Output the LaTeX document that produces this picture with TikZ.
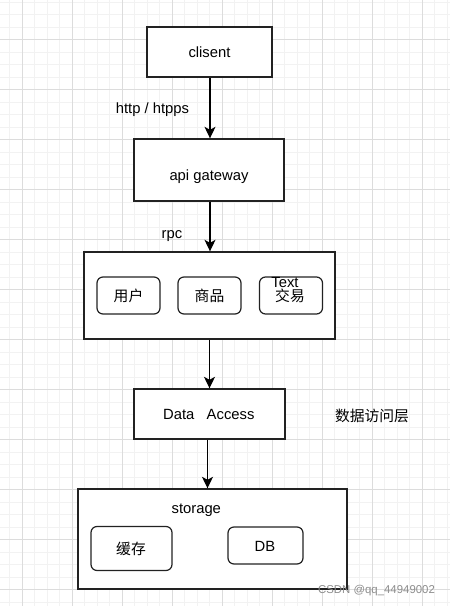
\documentclass[tikz,border=0pt]{standalone}
\usepackage{fontspec}
\setmainfont{Liberation Sans}
\newfontfamily\cjk{Noto Sans CJK SC}
\usetikzlibrary{arrows.meta}
\definecolor{minorgrid}{HTML}{F2F2F2}
\definecolor{majorgrid}{HTML}{DCDCDC}
\definecolor{boxline}{HTML}{222222}
\definecolor{wmark}{HTML}{8C8C8C}
\tikzset{
  box/.style={draw=boxline, line width=1.4pt, fill=white, inner sep=0pt},
  rbox/.style={draw=boxline, line width=1.2pt, rounded corners=6pt, fill=white, inner sep=0pt},
  lbl/.style={inner sep=0pt, font=\fontsize{14.8}{17}\selectfont},
  blbl/.style={lbl, anchor=base},
  arr/.style={draw=black, line width=1.3pt, -{Stealth[length=11.5pt,width=11pt,inset=3pt]}},
}
\begin{document}
\begin{tikzpicture}[x=1pt,y=-1pt]
\useasboundingbox (0,0) rectangle (450,606);
\fill[white] (0,0) rectangle (450,606);
% grid
\foreach \i in {-1,...,35} {\draw[minorgrid, line width=0.8pt] ({22+12.5*\i},0) -- ({22+12.5*\i},606);}
\foreach \i in {-3,...,45} {\draw[minorgrid, line width=0.8pt] (0,{39.5+12.5*\i}) -- (450,{39.5+12.5*\i});}
\foreach \i in {0,...,8} {\draw[majorgrid, line width=0.8pt] ({22+50*\i},0) -- ({22+50*\i},606);}
\foreach \i in {-1,...,11} {\draw[majorgrid, line width=0.8pt] (0,{39.5+50*\i}) -- (450,{39.5+50*\i});}

% boxes
\node[box, minimum width=125pt, minimum height=50pt] (client) at (209.5,52) {};
\node[box, minimum width=150pt, minimum height=62pt] (api) at (209,170) {};
\node[box, minimum width=251pt, minimum height=87pt] (svc) at (209.5,295.5) {};
\node[rbox, minimum width=63pt, minimum height=37pt] (user) at (128.5,295.5) {};
\node[rbox, minimum width=63pt, minimum height=37pt] (goods) at (209.5,295.5) {};
\node[rbox, minimum width=63pt, minimum height=37pt] (trade) at (291,295.5) {};
\node[box, minimum width=151pt, minimum height=50pt] (da) at (209.5,414) {};
\node[box, minimum width=269pt, minimum height=100pt] (storage) at (212.5,539) {};
\node[rbox, minimum width=81pt, minimum height=44pt] (cache) at (131.5,548.5) {};
\node[rbox, minimum width=75pt, minimum height=37pt] (db) at (265.5,545.5) {};

% texts
\node[blbl] (clienttxt) at (209.5,57.3) {clisent};
\node[blbl] (apitxt) at (209,180) {api gateway};
\node[lbl] (usertxt) at (128.5,295.5) {\cjk 用户};
\node[lbl] (goodstxt) at (209.5,295.5) {\cjk 商品};
\node[lbl] (tradetxt) at (290,296.2) {\cjk 交易};
\node[blbl] (texttxt) at (285,287.3) {Text};
\node[blbl] (datxt) at (208.8,419.3) {Data\ \ \ Access};
\node[blbl] (sttxt) at (196.3,513.3) {storage};
\node[lbl] (cachetxt) at (131,549) {\cjk 缓存};
\node[blbl] (dbtxt) at (265,551) {DB};

% labels
\node[blbl] (http) at (152.5,113.3) {http / htpps};
\node[blbl] (rpc) at (172,238.3) {rpc};
\node[lbl] (layer) at (372,416) {\cjk 数据访问层};

% connectors
\draw[arr] (client.south -| 210,0) -- (api.north -| 210,0);
\draw[arr] (api.south -| 210,0) -- (svc.north -| 210,0);
\draw[arr] (svc.south -| 209.5,0) -- (da.north -| 209.5,0);
\draw[arr] (da.south -| 207.5,0) -- (storage.north -| 207.5,0);

% watermark
\node[inner sep=0pt, anchor=base, text=wmark, font=\fontsize{11.4}{13}\selectfont] (wm) at (376.5,593) {CSDN @qq\_44949002};
\end{tikzpicture}
\end{document}
